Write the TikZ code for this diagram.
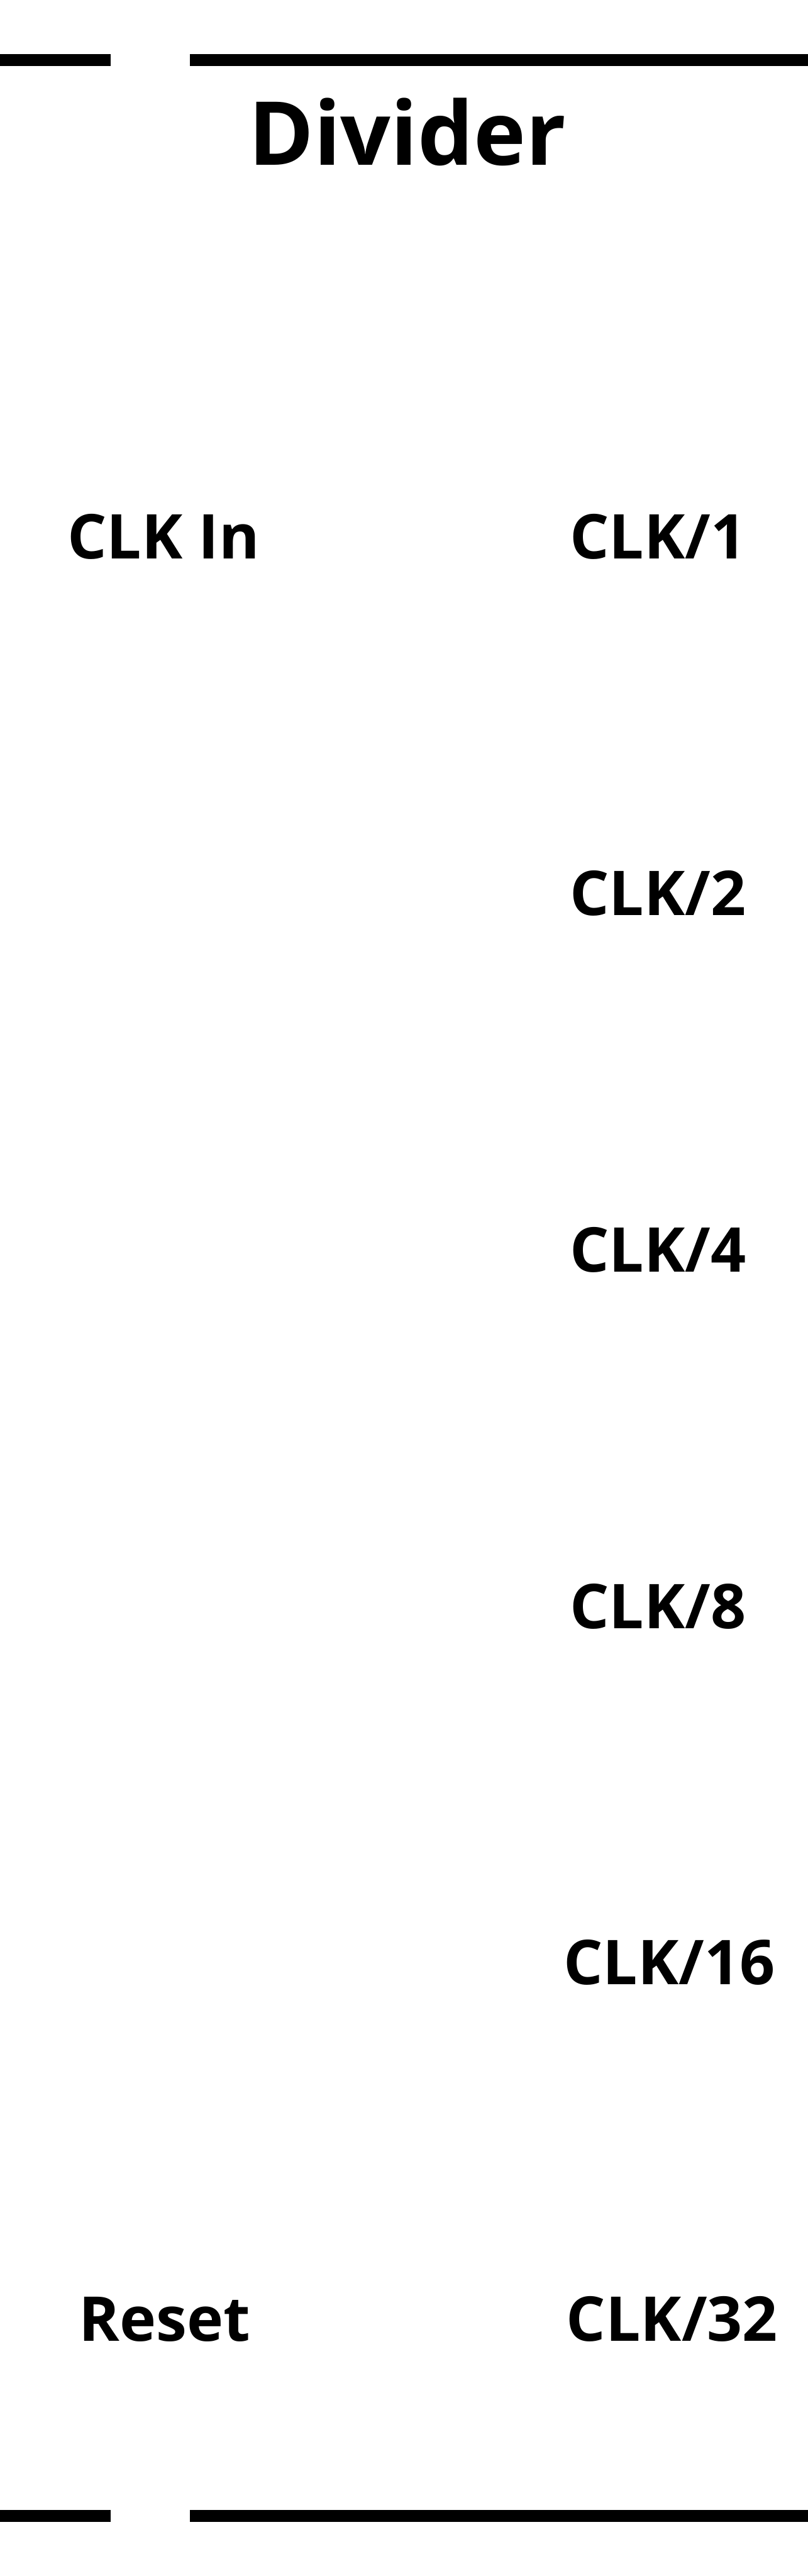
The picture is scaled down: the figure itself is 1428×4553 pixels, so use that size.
\documentclass[tikz,border=0pt]{standalone}
\usepackage{fontspec}
\setmainfont{Open Sans}
\begin{document}
\begin{tikzpicture}[x=0.25pt,y=-0.25pt,
  title/.style={inner sep=0pt,anchor=base,font=\fontsize{39}{44}\selectfont\bfseries},
  lbl/.style={inner sep=0pt,anchor=base,font=\fontsize{27.3}{32}\selectfont\bfseries},
  bar/.style={fill=black,draw=none}]
\useasboundingbox[fill=white] (0,0) rectangle (1428,4553);
% top bars
\fill[bar] (0,96) rectangle (196,117);
\fill[bar] (336,96) rectangle (1428,117);
% bottom bars
\fill[bar] (0,4436) rectangle (196,4457);
\fill[bar] (336,4436) rectangle (1428,4457);
% title
\node[title] (t) at (720,292) {Divider};
% labels
\node[lbl] (in) at (289,988) {CLK In};
\node[lbl] (c1) at (1163,988) {CLK/1};
\node[lbl] (c2) at (1163,1618) {CLK/2};
\node[lbl] (c4) at (1163,2248) {CLK/4};
\node[lbl] (c8) at (1163,2878) {CLK/8};
\node[lbl] (c16) at (1183,3508) {CLK/16};
\node[lbl] (c32) at (1188,4138) {CLK/32};
\node[lbl] (rst) at (291,4138) {Reset};
\end{tikzpicture}
\end{document}
